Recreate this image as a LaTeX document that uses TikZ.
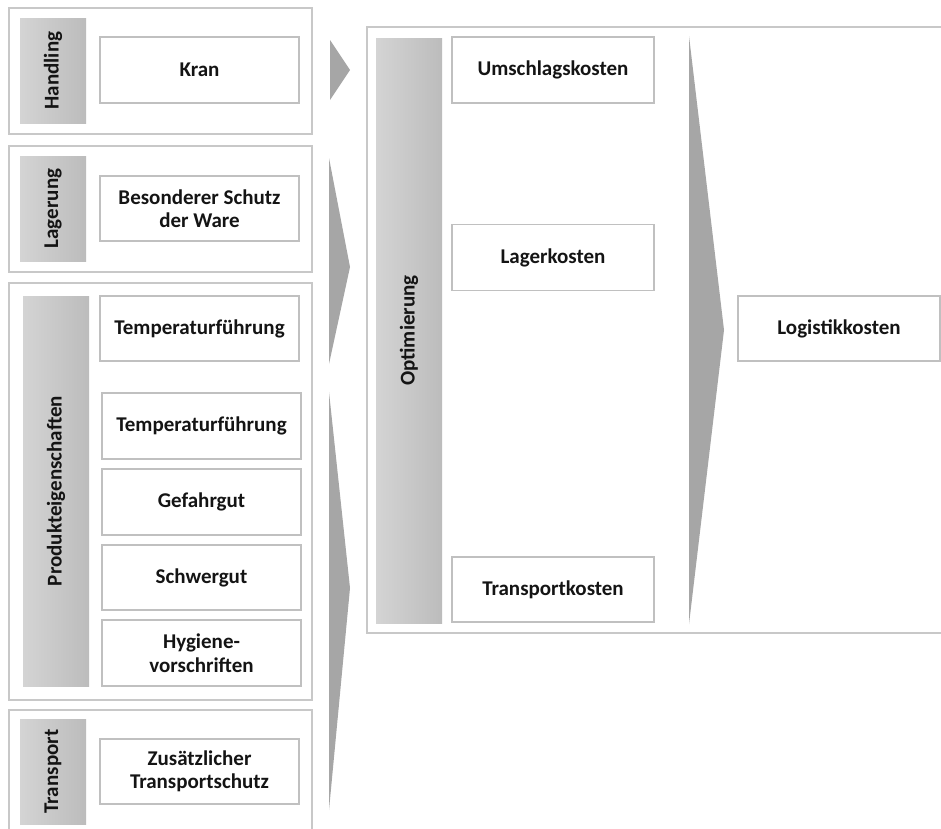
\documentclass[tikz,border=0pt]{standalone}
\usepackage{fontspec}
\setmainfont{Carlito}
\definecolor{bordergray}{HTML}{C0C0C0}
\definecolor{outergray}{HTML}{C8C8C8}
\definecolor{arrowgray}{HTML}{A6A6A6}
\definecolor{barL}{HTML}{D4D4D4}
\definecolor{barR}{HTML}{BCBCBC}
\definecolor{txt}{HTML}{141414}
\begin{document}
\begin{tikzpicture}[x=1pt,y=-1pt,
  outerbox/.style={draw=outergray, line width=1.5pt, fill=white, inner sep=0pt},
  itembox/.style={draw=bordergray, line width=1.2pt, fill=white, text=txt,
    font=\fontsize{21}{23.5}\selectfont\bfseries, align=center, inner sep=0pt},
  barbox/.style={left color=barL, right color=barR, draw=none, inner sep=0pt},
  bartext/.style={rotate=90, text=txt, font=\fontsize{21}{24}\selectfont\bfseries, inner sep=0pt},
  flow/.style={fill=arrowgray, draw=none}]
\useasboundingbox (0,0) rectangle (941,828);
\clip (0,0) rectangle (941,828);

% group frames
\node[outerbox, minimum width=303pt, minimum height=126pt] (gHandling) at (160.5,71) {};
\node[outerbox, minimum width=303pt, minimum height=126pt] (gLagerung) at (160.5,209) {};
\node[outerbox, minimum width=303pt, minimum height=417pt] (gProdukt) at (160.5,491.5) {};
\node[outerbox, minimum width=303pt, minimum height=140pt] (gTransport) at (160.5,780) {};
\node[outerbox, minimum width=590pt, minimum height=606pt] (gOpt) at (662,330) {};

% grey side bars
\node[barbox, minimum width=66pt, minimum height=105pt] (bHandling) at (53,70.5) {};
\node[bartext] (tHandling) at (bHandling) {Handling};
\node[barbox, minimum width=66pt, minimum height=105pt] (bLagerung) at (53,208.5) {};
\node[bartext] (tLagerung) at (bLagerung) {Lagerung};
\node[barbox, minimum width=66pt, minimum height=390pt] (bProdukt) at (56,491) {};
\node[bartext] (tProdukt) at (bProdukt) {Produkteigenschaften};
\node[barbox, minimum width=66pt, minimum height=105pt] (bTransport) at (53,771.5) {};
\node[bartext] (tTransport) at (bTransport) {Transport};
\node[barbox, minimum width=66pt, minimum height=585pt] (bOpt) at (409,330.5) {};
\node[bartext] (tOpt) at (bOpt) {Optimierung};

% item boxes
\node[itembox, minimum width=199pt, minimum height=66pt] (kran) at (199.5,70) {Kran};
\node[itembox, minimum width=199pt, minimum height=65pt] (schutz) at (199.5,208.5) {Besonderer Schutz\\der Ware};
\node[itembox, minimum width=199pt, minimum height=65pt] (temp1) at (199.5,328.5) {Temperaturführung};
\node[itembox, minimum width=199pt, minimum height=66pt] (temp2) at (201.5,426) {Temperaturführung};
\node[itembox, minimum width=199pt, minimum height=66pt] (gefahr) at (201.5,502) {Gefahrgut};
\node[itembox, minimum width=199pt, minimum height=65pt] (schwer) at (201.5,577.5) {Schwergut};
\node[itembox, minimum width=199pt, minimum height=66pt] (hygiene) at (201.5,653) {Hygiene-\\vorschriften};
\node[itembox, minimum width=199pt, minimum height=65pt] (zusatz) at (199.5,771.5) {Zusätzlicher\\Transportschutz};

\node[itembox, minimum width=202pt, minimum height=66pt] (umschlag) at (553,70) {Umschlagskosten};
\node[itembox, minimum width=202pt, minimum height=66pt] (lagerk) at (553,257.5) {Lagerkosten};
\node[itembox, minimum width=202pt, minimum height=65pt] (transk) at (553,589.5) {Transportkosten};
\node[itembox, minimum width=202pt, minimum height=65pt] (logistik) at (839,328.5) {Logistikkosten};

% flow arrows
\coordinate (a1t) at (330,40);  \coordinate (a1p) at (350,70);  \coordinate (a1b) at (330,100);
\coordinate (a2t) at (329,158); \coordinate (a2p) at (350,267); \coordinate (a2b) at (329,364);
\coordinate (a3t) at (329,392); \coordinate (a3p) at (350,588); \coordinate (a3b) at (329,810);
\coordinate (a4t) at (689,36);  \coordinate (a4p) at (724,330); \coordinate (a4b) at (689,624);
\fill[flow] (a1t) -- (a1p) -- (a1b) -- cycle;
\fill[flow] (a2t) -- (a2p) -- (a2b) -- cycle;
\fill[flow] (a3t) -- (a3p) -- (a3b) -- cycle;
\fill[flow] (a4t) -- (a4p) -- (a4b) -- cycle;
\end{tikzpicture}
\end{document}
